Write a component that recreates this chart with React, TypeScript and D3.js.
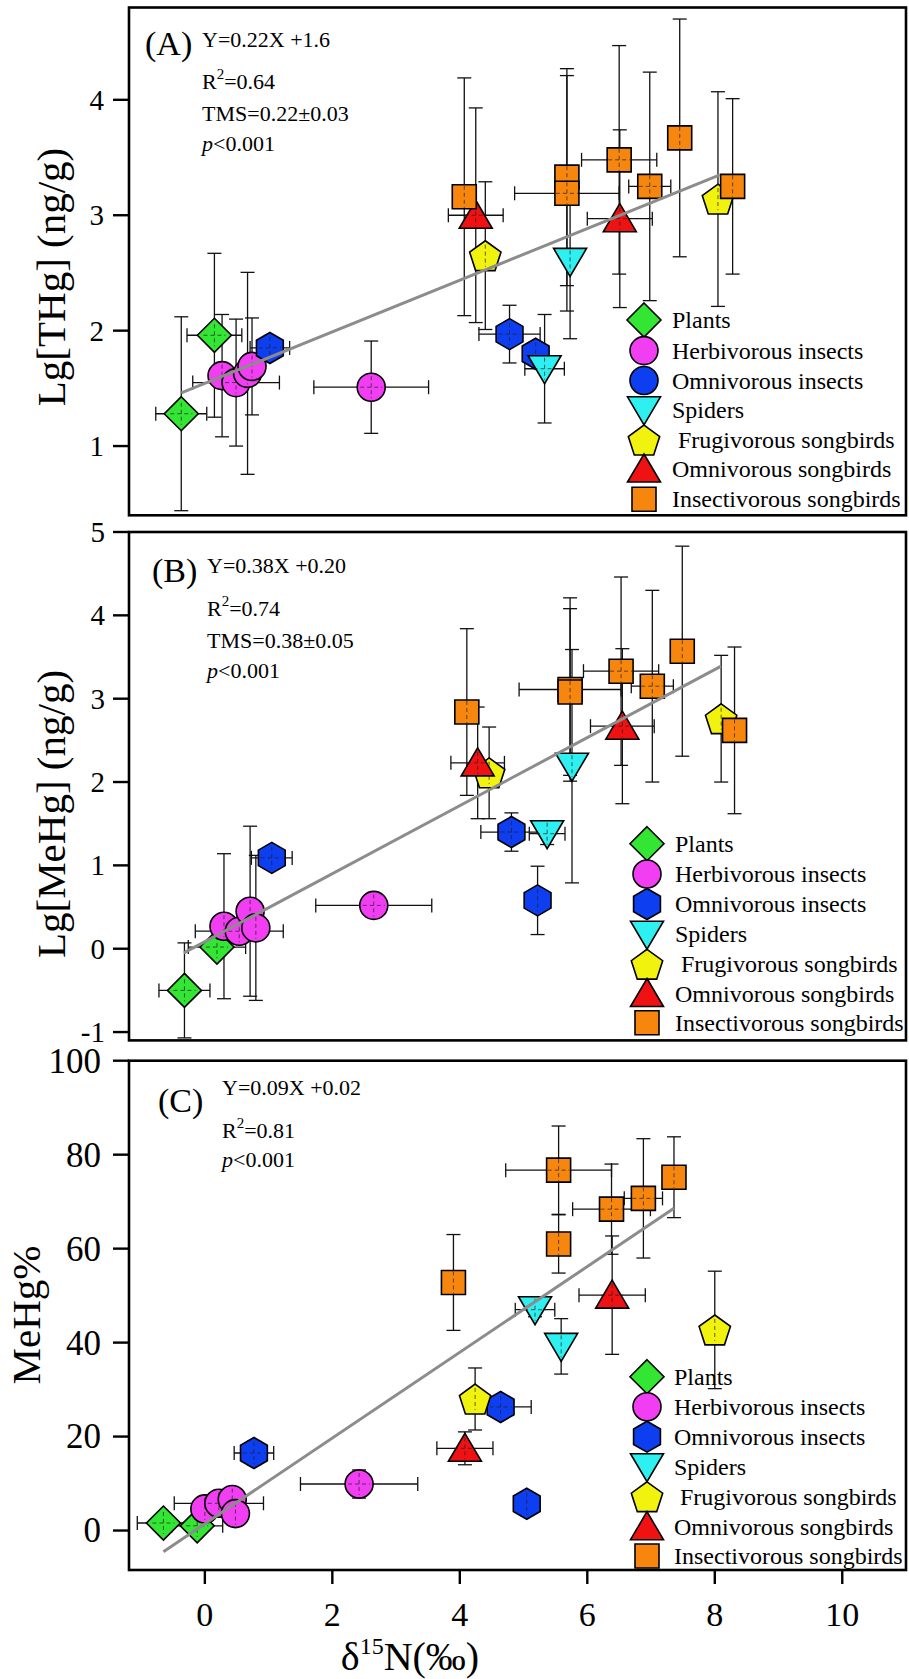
import React from "react";
import * as d3 from "d3";

const groupNames = [
  "Plants",
  "Herbivorous insects",
  "Omnivorous insects",
  "Spiders",
  " Frugivorous songbirds",
  "Omnivorous songbirds",
  "Insectivorous songbirds",
];
const groupColors = ["#33e633", "#f23ef2", "#0d3ff0", "#2ff0f0", "#f2f20f", "#f01212", "#f7860f"];
const groupShapes = ["diamond", "circle", "hexagon", "triDown", "pentagon", "triUp", "square"];

// rows: [group, d15N, value, xErr, yErr]
const thgPoints = [
  [0, -0.37, 1.28, 0.4, 0.84],
  [0, 0.15, 1.96, 0.43, 0.71],
  [1, 0.27, 1.61, 0, 0.53],
  [1, 0.49, 1.55, 0.68, 0.55],
  [1, 0.67, 1.63, 0, 0.875],
  [1, 0.74, 1.69, 0, 0.42],
  [1, 2.61, 1.51, 0.9, 0.4],
  [2, 1.02, 1.85, 0.31, 0.08],
  [2, 4.78, 1.97, 0.48, 0.25],
  [2, 5.19, 1.8, 0, 0.08],
  [3, 5.73, 2.6, 0, 0.67],
  [3, 5.33, 1.67, 0.31, 0.47],
  [4, 4.4, 2.65, 0, 0.64],
  [4, 8.05, 3.14, 0, 0.93],
  [5, 4.25, 3.0, 0.43, 0.93],
  [5, 6.51, 2.97, 0.51, 0.77],
  [6, 4.07, 3.16, 0, 1.03],
  [6, 5.68, 3.33, 0, 0.94],
  [6, 5.68, 3.19, 0.82, 1.02],
  [6, 6.5, 3.48, 0.59, 0.99],
  [6, 6.98, 3.25, 0.33, 0.99],
  [6, 7.45, 3.67, 0, 1.03],
  [6, 8.28, 3.25, 0, 0.76],
];

const mehgPoints = [
  [0, -0.32, -0.5, 0.4, 0.57],
  [0, 0.19, 0.02, 0.45, 0.05],
  [1, 0.3, 0.27, 0, 0.87],
  [1, 0.54, 0.21, 0.69, 0.05],
  [1, 0.71, 0.45, 0, 1.02],
  [1, 0.8, 0.25, 0, 0.87],
  [1, 2.65, 0.52, 0.91, 0.05],
  [2, 1.05, 1.09, 0.32, 0.07],
  [2, 4.81, 1.4, 0.48, 0.23],
  [2, 5.22, 0.58, 0, 0.41],
  [3, 5.76, 2.19, 0, 1.4],
  [3, 5.37, 1.38, 0.28, 0.13],
  [4, 4.46, 2.11, 0, 0.55],
  [4, 8.1, 2.76, 0, 0.76],
  [5, 4.28, 2.23, 0.42, 0.67],
  [5, 6.55, 2.67, 0.5, 0.93],
  [6, 4.11, 2.84, 0, 1.0],
  [6, 5.73, 3.11, 0.8, 1.1],
  [6, 5.73, 3.08, 0, 1.0],
  [6, 6.53, 3.33, 0.59, 1.13],
  [6, 7.02, 3.15, 0.33, 1.15],
  [6, 7.49, 3.57, 0, 1.26],
  [6, 8.31, 2.62, 0, 1.0],
];

const pctPoints = [
  [0, -0.65, 1.6, 0.41, 0.8],
  [0, -0.12, 1.0, 0.4, 0.8],
  [1, 0.0, 4.6, 0, 1.5],
  [1, 0.22, 5.8, 0.7, 1.5],
  [1, 0.43, 6.6, 0, 1.5],
  [1, 0.48, 3.6, 0, 1.5],
  [1, 2.42, 9.9, 0.92, 3.0],
  [2, 0.77, 16.5, 0.31, 2.5],
  [2, 4.64, 26.3, 0.48, 1.5],
  [2, 5.05, 5.7, 0, 2.0],
  [3, 5.18, 47.0, 0.31, 1.5],
  [3, 5.59, 39.2, 0, 5.9],
  [4, 4.24, 28.0, 0, 6.6],
  [4, 8.0, 42.7, 0, 12.5],
  [5, 4.08, 17.5, 0.44, 3.5],
  [5, 6.39, 50.1, 0.52, 12.6],
  [6, 3.9, 52.8, 0, 10.2],
  [6, 5.55, 76.7, 0.83, 9.4],
  [6, 5.55, 61.0, 0, 6.2],
  [6, 6.38, 68.4, 0.61, 9.6],
  [6, 6.88, 70.7, 0.3, 12.7],
  [6, 7.36, 75.2, 0, 8.6],
];

const thgFit = [[-0.37, 1.46], [8.08, 3.35]];
const mehgFit = [[-0.33, -0.05], [8.1, 3.39]];
const pctFit = [[-0.65, -4.5], [7.36, 68.6]];

const thgTicks = [1, 2, 3, 4];
const mehgTicks = [-1, 0, 1, 2, 3, 4, 5];
const pctTicks = [0, 20, 40, 60, 80, 100];
const xTicks = [0, 2, 4, 6, 8, 10];

const thgStats = ["Y=0.22X +1.6", "0.64", "TMS=0.22\u00b10.03"];
const mehgStats = ["Y=0.38X +0.20", "0.74", "TMS=0.38\u00b10.05"];
const pctStats = ["Y=0.09X +0.02", "0.81", null];

const FONT = "'Liberation Serif', 'Times New Roman', serif";

const x = d3.scaleLinear().domain([-1.19, 11.0]).range([129, 906]);

function shapePath(shape) {
  const poly = (pts) => "M" + pts.map((p) => p.map((v) => v.toFixed(2)).join(",")).join("L") + "Z";
  switch (shape) {
    case "diamond":
      return poly([[0, -17], [17, 0], [0, 17], [-17, 0]]);
    case "circle":
      return d3.symbol(d3.symbolCircle, Math.PI * 14 * 14)();
    case "hexagon":
      return poly(d3.range(6).map((k) => {
        const a = ((-90 + k * 60) * Math.PI) / 180;
        return [15.5 * Math.cos(a), 15.5 * Math.sin(a)];
      }));
    case "triDown":
      return poly([[-16.5, -13], [16.5, -13], [0, 15]]);
    case "pentagon":
      return poly(d3.range(5).map((k) => {
        const a = ((-90 + k * 72) * Math.PI) / 180;
        return [16.5 * Math.cos(a), 16.5 * Math.sin(a) + 1.6];
      }));
    case "triUp":
      return poly([[0, -15], [16.5, 13], [-16.5, 13]]);
    default:
      return poly([[-12, -12], [12, -12], [12, 12], [-12, 12]]);
  }
}

function Marker({ g, cx, cy, shape }) {
  return (
    <path
      d={shapePath(shape || groupShapes[g])}
      transform={`translate(${cx},${cy})`}
      fill={groupColors[g]}
      stroke="#000"
      strokeWidth={1.6}
    />
  );
}

function Panel(props) {
  const {
    points, fit, y, ticks, tickFont, tickX, title, titleX, titleY,
    tag, tagX, tagY, stats, statX, statYs, legendYs, legendX, legendTextX, legendCircle,
  } = props;
  const [top, bottom] = [y.range()[1], y.range()[0]];
  const cap = 7;
  const line = d3.line().x((d) => x(d[0])).y((d) => y(d[1]));

  return (
    <g fontFamily={FONT}>
      <rect x={129} y={top} width={906 - 129} height={bottom - top} fill="#fff" stroke="#000" strokeWidth={2.6} />

      {ticks.map((t) => (
        <g key={t}>
          <line x1={113} x2={129} y1={y(t)} y2={y(t)} stroke="#000" strokeWidth={2.4} />
          <text x={tickX} y={y(t) + tickFont * 0.34} fontSize={tickFont} textAnchor="end">{t}</text>
        </g>
      ))}

      <text transform={`translate(${titleX},${titleY}) rotate(-90)`} fontSize={41} textAnchor="middle">{title}</text>

      {/* error bars */}
      {points.map((p, i) => {
        const [, px, py, xe, ye] = p;
        const cx = x(px), cy = y(py);
        return (
          <g key={"e" + i} stroke="#111" strokeWidth={1.3} fill="none">
            {ye > 0 && (
              <>
                <line x1={cx} x2={cx} y1={y(py + ye)} y2={y(py - ye)} />
                <line x1={cx - cap} x2={cx + cap} y1={y(py + ye)} y2={y(py + ye)} />
                <line x1={cx - cap} x2={cx + cap} y1={y(py - ye)} y2={y(py - ye)} />
              </>
            )}
            {xe > 0 && (
              <>
                <line x1={x(px - xe)} x2={x(px + xe)} y1={cy} y2={cy} />
                <line x1={x(px - xe)} x2={x(px - xe)} y1={cy - cap} y2={cy + cap} />
                <line x1={x(px + xe)} x2={x(px + xe)} y1={cy - cap} y2={cy + cap} />
              </>
            )}
          </g>
        );
      })}

      {/* markers */}
      {points.map((p, i) => {
        const [g, px, py, xe, ye] = p;
        const cx = x(px), cy = y(py);
        return (
          <g key={"m" + i}>
            <Marker g={g} cx={cx} cy={cy} />
            <g stroke="#222" strokeWidth={1} strokeDasharray="4,3" opacity={0.7}>
              {ye > 0 && <line x1={cx} x2={cx} y1={cy - 11} y2={cy + 11} />}
              {xe > 0 && <line x1={cx - 11} x2={cx + 11} y1={cy} y2={cy} />}
            </g>
          </g>
        );
      })}

      <path d={line(fit)} stroke="#8c8c8c" strokeWidth={3} fill="none" />

      <text x={tagX} y={tagY} fontSize={34}>{tag}</text>
      <text x={statX} y={statYs[0]} fontSize={22}>{stats[0]}</text>
      <text x={statX} y={statYs[1]} fontSize={22}>
        R<tspan dy={-10} fontSize={15}>2</tspan>
        <tspan dy={10}>={stats[1]}</tspan>
      </text>
      {stats[2] && <text x={statX} y={statYs[2]} fontSize={22}>{stats[2]}</text>}
      <text x={statX} y={statYs[3]} fontSize={22}>
        <tspan fontStyle="italic">p</tspan>&lt;0.001
      </text>

      {groupNames.map((name, g) => (
        <g key={name}>
          <Marker g={g} cx={legendX} cy={legendYs[g]} shape={legendCircle && g === 2 ? "circle" : undefined} />
          <text x={legendTextX + (g === 4 ? 6 : 0)} y={legendYs[g] + 8} fontSize={24}>{name.trim()}</text>
        </g>
      ))}
    </g>
  );
}

export default function App() {
  const yA = d3.scaleLinear().domain([0.4, 4.8]).range([515.3, 7.5]);
  const yB = d3.scaleLinear().domain([-1.1, 5]).range([1040.4, 532]);
  const yC = d3.scaleLinear().domain([-8.4, 100]).range([1570, 1060.7]);

  return (
    <svg
      width={909}
      height={1679}
      style={{ position: "absolute", left: 0, top: 0, background: "#fff" }}
    >
      <rect width={909} height={1679} fill="#fff" />
      <Panel
        points={thgPoints} fit={thgFit} y={yA} ticks={thgTicks} tickFont={29} tickX={104}
        title="Lg[THg] (ng/g)" titleX={65} titleY={277}
        tag="(A)" tagX={145} tagY={55} stats={thgStats} statX={202} statYs={[46.5, 89, 121, 150.5]}
        legendYs={[320, 350.6, 380.5, 409.8, 440, 469, 499.3]} legendX={644} legendTextX={672} legendCircle
      />
      <Panel
        points={mehgPoints} fit={mehgFit} y={yB} ticks={mehgTicks} tickFont={29} tickX={105}
        title="Lg[MeHg] (ng/g)" titleX={65} titleY={814}
        tag="(B)" tagX={152} tagY={582} stats={mehgStats} statX={207} statYs={[573.4, 615.7, 648, 677.7]}
        legendYs={[843.7, 874, 904, 934.2, 964.2, 993.5, 1022.7]} legendX={647} legendTextX={675}
      />
      <Panel
        points={pctPoints} fit={pctFit} y={yC} ticks={pctTicks} tickFont={35} tickX={101}
        title="MeHg%" titleX={40} titleY={1315}
        tag="(C)" tagX={158} tagY={1112} stats={pctStats} statX={222} statYs={[1095, 1137.5, null, 1166.7]}
        legendYs={[1376.7, 1406.7, 1436.7, 1466.7, 1496.7, 1526.7, 1556]} legendX={647} legendTextX={674}
      />

      <g fontFamily={FONT}>
        {xTicks.map((t) => (
          <g key={t}>
            <line x1={x(t)} x2={x(t)} y1={1570} y2={1584} stroke="#000" strokeWidth={2.4} />
            <text x={x(t)} y={1626} fontSize={34} textAnchor="middle">{t}</text>
          </g>
        ))}
        <text x={410} y={1670} fontSize={40} textAnchor="middle">
          δ<tspan dy={-16} fontSize={24}>15</tspan>
          <tspan dy={16}>N(‰)</tspan>
        </text>
      </g>
    </svg>
  );
}
